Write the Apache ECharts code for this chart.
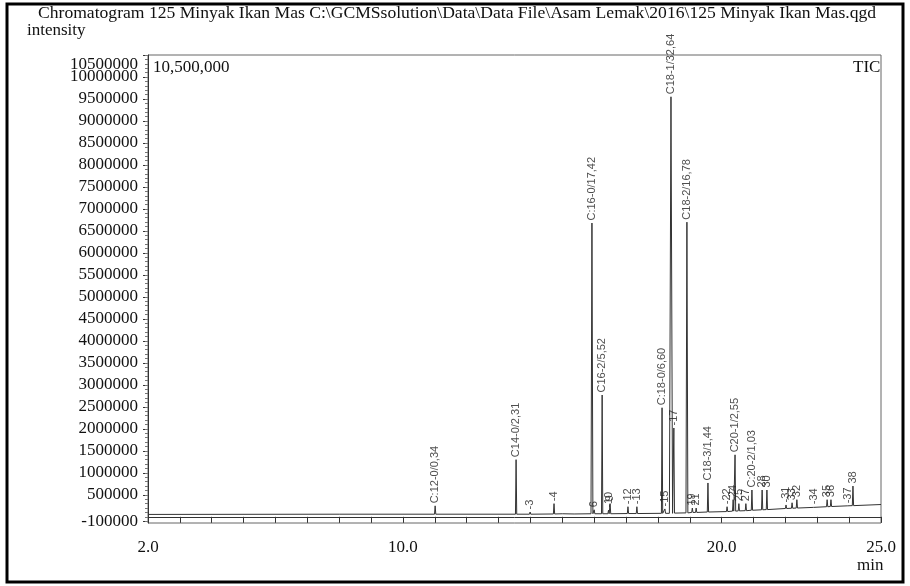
<!DOCTYPE html>
<html>
<head>
<meta charset="utf-8">
<script src="https://cdn.jsdelivr.net/npm/echarts@6/dist/echarts.min.js"></script>
<style>
html, body { margin: 0; padding: 0; background: #fff; }
#chart { width: 910px; height: 586px; }
</style>
</head>
<body>
<div id="chart"></div>
<script>
// peaks: retention time (min), top intensity, foot intensity, label
var peakTime   = [11.01, 13.55, 13.99, 14.74, 15.40, 15.93, 16.00, 16.25, 16.45, 16.50, 17.06, 17.34,
                  18.13, 18.22, 18.41, 18.50, 18.91, 19.08, 19.20, 19.57, 20.17, 20.36, 20.42, 20.54,
                  20.76, 20.95, 21.27, 21.42, 22.02, 22.21, 22.36, 22.90, 23.31, 23.43, 23.96, 24.12];
var peakHeight = [250000, 1300000, 110000, 300000, 110000, 6680000, 160000, 2770000, 150000, 300000, 230000, 230000,
                  2480000, 180000, 9550000, 2020000, 6700000, 200000, 200000, 770000, 230000, 390000, 1410000, 300000,
                  300000, 610000, 610000, 610000, 270000, 320000, 390000, 230000, 390000, 390000, 250000, 700000];
var peakBase   = [60000, 60000, 60000, 65000, 65000, 70000, 70000, 70000, 70000, 70000, 75000, 75000,
                  80000, 80000, 80000, 85000, 90000, 100000, 100000, 110000, 120000, 130000, 130000, 135000,
                  140000, 150000, 160000, 165000, 190000, 195000, 200000, 215000, 230000, 235000, 250000, 255000];
var peakLabel  = ['C:12-0/0,34', 'C14-0/2,31', '-3', '-4', '', 'C:16-0/17,42', '6', 'C16-2/5,52', '-10', '9', '-12', '-13',
                  'C:18-0/6,60', '-15', 'C18-1/32,64', '-17', 'C18-2/16,78', '19', '21', 'C18-3/1,44', '-22', '24', 'C20-1/2,55', '25',
                  '27', 'C:20-2/1,03', '28', '30', '-31', '33', '32', '-34', '35', '36', '-37', '38'];
var peakWidth  = [0.02, 0.02, 0.02, 0.02, 0.03, 0.03, 0.02, 0.02, 0.02, 0.02, 0.02, 0.02,
                  0.02, 0.02, 0.05, 0.02, 0.03, 0.02, 0.02, 0.02, 0.02, 0.02, 0.02, 0.02,
                  0.02, 0.02, 0.02, 0.02, 0.02, 0.02, 0.02, 0.02, 0.02, 0.02, 0.02, 0.02];

// baseline between peaks
var baseTime  = [2.0, 8.0, 15.0, 19.0, 22.0, 24.0, 25.0];
var baseValue = [55000, 60000, 70000, 105000, 190000, 255000, 280000];

var xLabels = [2, 10, 20, 25];
var yLabels = [-100000, 500000, 1000000, 1500000, 2000000, 2500000, 3000000, 3500000, 4000000, 4500000,
               5000000, 5500000, 6000000, 6500000, 7000000, 7500000, 8000000, 8500000, 9000000, 9500000,
               10000000];
var yTopLabel = 10500000;

var trace = [];
for (var i = 0; i < baseTime.length; i++) trace.push([baseTime[i], baseValue[i]]);
for (var j = 0; j < peakTime.length; j++) {
    trace.push([peakTime[j] - peakWidth[j], peakBase[j]]);
    trace.push([peakTime[j], peakHeight[j]]);
    trace.push([peakTime[j] + peakWidth[j], peakBase[j]]);
}
trace.sort(function (a, b) { return a[0] - b[0]; });

var tops = peakTime.map(function (t, k) { return [t, peakHeight[k]]; });

var xTicks = [];
for (var m = 2; m <= 25; m++) xTicks.push(m);
var yMinor = [];
for (var v = -100000; v <= 10500000; v += 100000) yMinor.push(v);

var serif = '"Liberation Serif", "Times New Roman", serif';

var chart = echarts.init(document.getElementById('chart'));
chart.setOption({
    animation: false,
    backgroundColor: '#fff',
    grid: {
        left: 148, right: 29, top: 55, bottom: 63,
        show: true, borderColor: '#666', borderWidth: 1
    },
    xAxis: {
        type: 'value', min: 2, max: 25,
        axisLine: { lineStyle: { color: '#333', width: 1 } },
        axisTick: { show: true, length: 6, customValues: xTicks, lineStyle: { color: '#333' } },
        axisLabel: {
            customValues: xLabels, margin: 16,
            fontFamily: serif, fontSize: 17, color: '#111',
            formatter: function (val) { return val.toFixed(1); }
        },
        splitLine: { show: false }
    },
    yAxis: [{
        type: 'value', min: -140000, max: 10500000,
        axisLine: { show: true, lineStyle: { color: '#333', width: 1 } },
        axisTick: { show: true, length: 5, customValues: yLabels.concat([yTopLabel]), lineStyle: { color: '#333' } },
        axisLabel: {
            customValues: yLabels, margin: 10,
            fontFamily: serif, fontSize: 17, color: '#111',
            formatter: function (val) { return String(val); }
        },
        splitLine: { show: false }
    }, {
        type: 'value', min: -140000, max: 10500000, position: 'left',
        axisLine: { show: false },
        axisTick: { show: true, length: 3, customValues: yMinor, lineStyle: { color: '#777' } },
        axisLabel: { show: false },
        splitLine: { show: false }
    }],
    series: [{
        type: 'line',
        data: trace,
        showSymbol: false,
        lineStyle: { color: '#333', width: 1 },
        z: 3
    }, {
        type: 'scatter',
        data: tops,
        symbolSize: 1,
        itemStyle: { color: 'rgba(0,0,0,0)' },
        label: {
            show: true,
            position: 'top',
            distance: 2,
            rotate: 90,
            align: 'left',
            verticalAlign: 'middle',
            fontFamily: '"Liberation Sans", Arial, sans-serif',
            fontSize: 11,
            color: '#222',
            formatter: function (p) { return peakLabel[p.dataIndex]; }
        },
        z: 4
    }],
    graphic: [{
        type: 'rect', silent: true,
        shape: { x: 7, y: 4, width: 896, height: 578 },
        style: { fill: 'none', stroke: '#000', lineWidth: 3 }
    }, {
        type: 'text', left: 38, top: 4,
        style: {
            text: 'Chromatogram 125 Minyak Ikan Mas C:\\GCMSsolution\\Data\\Data File\\Asam Lemak\\2016\\125 Minyak Ikan Mas.qgd',
            font: '17.6px ' + serif, fill: '#111'
        }
    }, {
        type: 'text', left: 27, top: 22,
        style: { text: 'intensity', font: '17px ' + serif, fill: '#111' }
    }, {
        type: 'text', x: 138, y: 65,
        style: { text: String(yTopLabel), font: '17px ' + serif, fill: '#111', align: 'right', verticalAlign: 'middle' }
    }, {
        type: 'text', left: 153, top: 59,
        style: { text: '10,500,000', font: '17px ' + serif, fill: '#111' }
    }, {
        type: 'text', left: 853, top: 59,
        style: { text: 'TIC', font: '17px ' + serif, fill: '#111' }
    }, {
        type: 'text', left: 857, top: 557,
        style: { text: 'min', font: '17px ' + serif, fill: '#111' }
    }]
});
</script>
</body>
</html>
